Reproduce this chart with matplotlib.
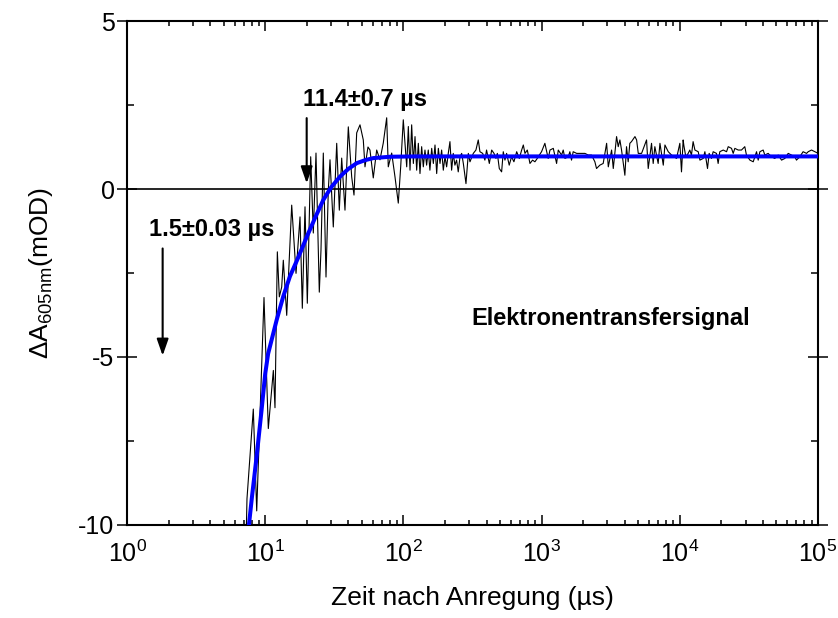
import matplotlib
matplotlib.use("Agg")
import matplotlib.pyplot as plt
from matplotlib.ticker import MultipleLocator

plt.rcParams["font.family"] = "Liberation Sans"
plt.rcParams["mathtext.fontset"] = "custom"
plt.rcParams["mathtext.rm"] = "Liberation Sans"
plt.rcParams["mathtext.it"] = "Liberation Sans:italic"
plt.rcParams["mathtext.bf"] = "Liberation Sans:bold"
plt.rcParams["axes.unicode_minus"] = False

# gemessenes Signal bei 605 nm (Zeit in µs, dA in mOD)
zeit = [7.26, 7.38, 8.20, 8.68, 9.80, 10.53, 11.45, 11.77, 12.24, 12.65,
        13.16, 13.52, 14.31, 15.55, 16.71, 17.86, 18.56, 19.41, 20.17, 21.34,
        22.29, 23.31, 24.63, 25.33, 26.33, 27.54, 28.62, 29.44, 31.10, 32.92,
        34.38, 35.77, 37.79, 39.94, 42.26, 43.91, 45.93, 48.53, 51.27, 52.74,
        55.43, 57.31, 60.55, 64.08, 67.71, 71.54, 75.71, 77.75, 82.30, 86.96,
        91.86, 95.61, 99.84, 105.7,
        108.6, 111.7, 114.8, 118.1, 121.4, 124.8, 128.3, 131.9, 135.6, 139.4,
        143.3, 147.3, 151.4, 155.6, 160.3, 164.8, 169.4, 174.2, 179.1, 184.1,
        189.2, 194.5, 200.0, 205.6, 211.3, 217.3, 223.4, 229.6, 236.0, 242.7,
        249.5, 257.0, 264.2, 271.6, 283.8, 295.1, 303.4, 320.6, 335.0, 348.3,
        358.1, 375.0, 389.0, 399.9, 418.8, 435.5, 452.9, 467.7, 478.6, 494.5,
        514.0, 528.4, 543.3, 558.5, 583.4, 606.7, 631.0, 660.7, 690.2, 717.8,
        738.0, 758.6, 788.9, 824.2, 861.0, 895.4, 931.1,
        946, 1000, 1057, 1117, 1151, 1216, 1285, 1321, 1396, 1435,
        1476, 1560, 1603, 1648, 1694, 1795, 1897, 2061, 2178, 2301,
        2432, 2500, 2642, 2793, 2958, 3041, 3214, 3304, 3491, 3589,
        3690, 3793, 4009, 4121, 4236, 4355, 4477, 4742, 4875, 5012,
        5297, 5754, 5916, 6252, 6427, 6607, 6982, 7194, 7603, 7816,
        8260, 8730, 9484, 10020, 10300,
        10590, 10710, 11070, 11510, 11830, 12160, 12500, 12880, 13610, 14000,
        14790, 15210, 15890, 16330, 16980, 17460, 18450, 18970, 19500, 20650,
        21830, 22440, 23710, 24380, 25060, 26490, 27990, 29580, 30410, 32210,
        34040, 35970, 36980, 38020, 40180, 41300, 43650, 46130, 48750, 51640,
        54580, 57680, 60950, 64420, 68080, 69980, 73960, 78160, 82790, 85110,
        89950, 95060, 100500]
signal = [-10.6, -9.22, -6.55, -9.58, -3.23, -7.13, -5.40, -6.51, -1.87, -3.21,
          -2.92, -2.12, -3.76, -0.48, -2.51, -0.83, -3.55, -0.53, -3.40, 0.96,
          -1.31, 1.07, -3.07, -1.82, 1.07, -2.62, -0.03, 0.87, -1.13, 1.36,
          -0.63, 0.92, -0.63, 1.85, 0.36, -0.18, 1.67, 1.91, 1.46, 0.66,
          1.25, 1.16, 0.33, 1.16, 0.87, 1.37, 2.12, 0.66, 1.07, 0.36,
          -0.42, 0.66, 2.06, 0.66,
          1.86, 0.56, 1.91, 0.76, 1.56, 0.56, 1.36, 0.46, 1.26, 0.66,
          1.16, 0.71, 1.16, 0.56, 1.21, 0.76, 1.31, 0.46, 1.21, 0.76,
          1.16, 0.56, 0.96, 0.66, 1.06, 1.41, 0.56, 1.06, 0.71, 0.86,
          0.51, 0.96, 1.06, 0.76, 0.16, 1.06, 0.81, 1.06, 1.16, 1.46,
          1.11, 1.06, 0.86, 1.16, 0.76, 1.16, 1.06, 0.91, 1.06, 0.61,
          0.51, 1.11, 0.86, 1.06, 0.71, 0.96, 0.81, 1.11, 0.91, 1.16,
          1.31, 1.06, 1.16, 0.76, 0.86, 0.81, 0.91,
          0.96, 1.11, 1.36, 0.91, 1.16, 1.21, 0.76, 1.16, 1.01, 1.16,
          0.91, 0.96, 1.11, 0.86, 1.11, 1.06, 1.06, 1.06, 1.01, 1.01,
          0.81, 0.61, 0.71, 0.76, 1.36, 0.66, 1.16, 0.61, 1.56, 1.26,
          1.46, 1.16, 0.41, 1.26, 0.81, 1.36, 1.41, 1.56, 1.46, 1.06,
          1.06, 1.46, 0.61, 1.36, 0.76, 1.26, 0.76, 1.36, 0.71, 1.31,
          1.11, 1.01, 0.91, 1.36, 0.51,
          1.46, 1.30, 0.96, 1.06, 1.16, 1.01, 1.41, 1.16, 1.11, 0.86,
          0.91, 1.11, 0.61, 1.06, 0.91, 1.11, 1.06, 0.76, 1.11, 1.16,
          1.11, 1.26, 1.21, 1.06, 1.21, 1.16, 1.16, 1.26, 1.01, 0.86,
          0.81, 1.11, 0.86, 1.11, 1.16, 1.01, 1.06, 0.96, 0.91, 1.01,
          0.86, 0.91, 1.06, 1.01, 0.96, 0.86, 0.96, 1.11, 1.06, 1.11,
          1.16, 1.11, 1.06]

# biexponentielle Anpassung
zeit_fit = [7.4, 8.0, 8.7, 9.4, 10.0, 10.5, 12.1, 13.5, 15.1, 17.5, 20.0,
            23.0, 26.3, 30.0, 34.8, 40.0, 46.0, 53.0, 60.6, 80.0, 120.0,
            1000.0, 100000.0]
signal_fit = [-10.5, -9.2, -7.9, -6.6, -5.5, -4.9, -3.9, -3.2, -2.6, -2.0,
              -1.42, -0.85, -0.33, 0.05, 0.37, 0.6, 0.77, 0.86, 0.92, 0.96,
              0.97, 0.97, 0.97]

fig = plt.figure(figsize=(8.38, 6.18), dpi=100)
ax = fig.add_axes([0.1516, 0.1505, 0.8244, 0.8155])

ax.axhline(0, color="black", lw=1.2, zorder=1)
ax.plot(zeit, signal, color="black", lw=0.8, zorder=2)
ax.plot(zeit_fit, signal_fit, color="#0000ff", lw=2.9, zorder=3)

ax.set_xscale("log")
ax.set_xlim(1, 1e5)
ax.set_ylim(-10, 5)
ax.yaxis.set_major_locator(MultipleLocator(5))
ax.yaxis.set_minor_locator(MultipleLocator(2.5))

for s in ax.spines.values():
    s.set_linewidth(1.5)
ax.tick_params(which="both", direction="in", top=True, right=True,
               width=1.1, labelsize=18)
ax.tick_params(axis="x", which="major", length=7.5, pad=11)
ax.tick_params(axis="x", which="minor", length=3.6)
ax.tick_params(axis="y", which="major", direction="inout", length=15, pad=1.5)
ax.tick_params(axis="y", which="minor", length=5)

ax.set_xlabel("Zeit nach Anregung (µs)", fontsize=19, labelpad=14)
ax.set_ylabel(r"ΔA$_\mathregular{605nm}$(mOD)", fontsize=19, labelpad=17)

pfeil = dict(arrowstyle="-|>,head_width=0.35,head_length=1.0",
             color="black", lw=1.5, shrinkA=0, shrinkB=0)
ax.annotate("", xy=(19.96, 0.17), xytext=(19.96, 2.11), arrowprops=pfeil)
ax.annotate("", xy=(1.81, -4.96), xytext=(1.81, -1.77), arrowprops=pfeil)

ax.text(18.9, 2.46, "11.4±0.7 µs", fontsize=17, fontweight="bold",
        ha="left", va="baseline")
ax.text(1.45, -1.40, "1.5±0.03 µs", fontsize=17, fontweight="bold",
        ha="left", va="baseline")
ax.text(312, -4.05, "Elektronentransfersignal", fontsize=17,
        fontweight="bold", ha="left", va="baseline")

fig.savefig("out.png", dpi=100)
